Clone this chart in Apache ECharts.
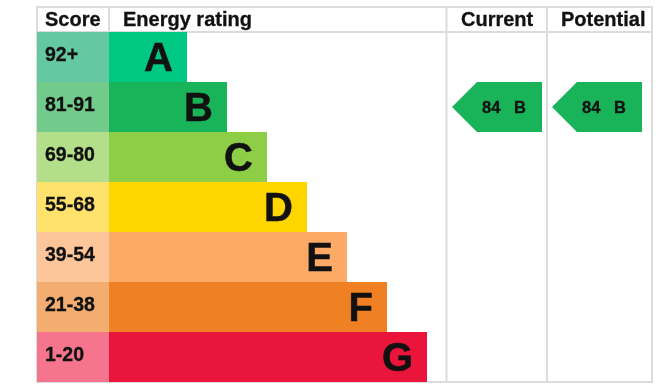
<!DOCTYPE html>
<html style="height: 100%;width:100%">
<head>
<meta charset="utf-8">
</head>
<body style="height: 100%; width:100%; margin:0">
<div id="chart-panel" style="width:663px;height:388px"></div>
<script type="text/javascript" src="https://fastly.jsdelivr.net/npm/echarts@6/dist/echarts.min.js"></script>
<script type="text/javascript">
// rating bands, top to bottom
var bands = ['A', 'B', 'C', 'D', 'E', 'F', 'G'];
var scoreRanges = ['92+', '81-91', '69-80', '55-68', '39-54', '21-38', '1-20'];
// relative bar length of each band
var bandSteps = [1.95, 2.95, 3.95, 4.95, 5.95, 6.95, 7.95];
var scoreColors = ['#64c8a3', '#72cb8a', '#b4df8a', '#ffe26c', '#fdc59a', '#f4ad70', '#f4758d'];
var bandColors = ['#00c781', '#19b459', '#8dce46', '#ffd500', '#fcaa65', '#ef8023', '#e9153b'];
var columns = ['Current', 'Potential'];
// [column, band, score]
var ratings = [[0, 'B', 84], [1, 'B', 84]];

var myChart = echarts.init(document.getElementById('chart-panel'));
var font = "'Liberation Sans', Arial, sans-serif";
var lineColor = '#dcdcdc';

var scoreCol = 1.8; // width of score column in axis units

function hline(y, x1, x2) {
  return {type: 'line', z: 0, shape: {x1: x1, y1: y, x2: x2, y2: y}, style: {stroke: lineColor, lineWidth: 2}};
}
function vline(x, y1, y2) {
  return {type: 'line', z: 0, shape: {x1: x, y1: y1, x2: x, y2: y2}, style: {stroke: lineColor, lineWidth: 2}};
}
function header(text, x) {
  return {type: 'text', z: 5, x: x, y: 20, style: {text: text, fill: '#111', verticalAlign: 'middle',
    font: 'bold 20px ' + font, stroke: '#111', lineWidth: 0.3}};
}

var option = {
  backgroundColor: '#fff',
  animation: false,
  grid: [
    {left: 37, width: 409, top: 32, height: 350},
    {left: 446, width: 200, top: 32, height: 350}
  ],
  xAxis: [
    {gridIndex: 0, type: 'value', min: 0, max: 409 / 40, show: false},
    {gridIndex: 1, type: 'category', data: columns, show: false}
  ],
  yAxis: [
    {gridIndex: 0, type: 'category', data: bands, inverse: true, show: false},
    {gridIndex: 1, type: 'category', data: bands, inverse: true, show: false}
  ],
  graphic: [
    hline(7, 36, 653), hline(32, 36, 653), hline(382, 36, 653),
    vline(37, 6, 383), vline(109, 6, 32),
    vline(446.5, 6, 383), vline(547, 6, 383), vline(652, 6, 383),
    header('Score', 45), header('Energy rating', 123),
    header('Current', 461), header('Potential', 561)
  ],
  series: [
    {
      type: 'bar',
      stack: 'band',
      barWidth: '100%',
      barCategoryGap: 0,
      z: 3,
      data: scoreRanges.map(function (s, i) {
        return {value: scoreCol, name: s, itemStyle: {color: scoreColors[i]}};
      }),
      label: {
        show: true,
        position: 'insideLeft',
        distance: 8,
        offset: [0, -1],
        formatter: function (p) { return p.name; },
        color: '#111',
        fontFamily: font,
        fontWeight: 'bold',
        fontSize: 19.5,
        textBorderColor: '#111',
        textBorderWidth: 0.3
      }
    },
    {
      type: 'bar',
      stack: 'band',
      barWidth: '100%',
      z: 3,
      data: bandSteps.map(function (v, i) {
        return {value: v, name: bands[i], itemStyle: {color: bandColors[i]}};
      }),
      label: {
        show: true,
        position: 'insideRight',
        distance: 14,
        offset: [0, 3],
        formatter: function (p) { return p.name; },
        color: '#111',
        fontFamily: font,
        fontWeight: 'bold',
        fontSize: 40,
        textBorderColor: '#111',
        textBorderWidth: 0.5
      }
    },
    {
      type: 'custom',
      xAxisIndex: 1,
      yAxisIndex: 1,
      z: 4,
      data: ratings,
      renderItem: function (params, api) {
        var c = api.coord([api.value(0), api.value(1)]);
        var h = api.size([0, 1])[1];
        var left = c[0] - 44, right = c[0] + 46, tip = 25;
        var top = c[1] - h / 2, bottom = c[1] + h / 2;
        var r = ratings[params.dataIndex];
        var color = bandColors[bands.indexOf(r[1])];
        return {
          type: 'group',
          children: [
            {type: 'polygon', shape: {points: [[left, c[1]], [left + tip, top], [right, top], [right, bottom], [left + tip, bottom]]},
              style: {fill: color}},
            {type: 'text', style: {text: r[2] + '   ' + r[1], x: c[0] + 8, y: c[1] + 1.5, align: 'center', verticalAlign: 'middle',
              fill: '#111', font: 'bold 16.5px ' + font, stroke: '#111', lineWidth: 0.3}}
          ]
        };
      }
    }
  ]
};
myChart.setOption(option);
</script>
</body>
</html>
